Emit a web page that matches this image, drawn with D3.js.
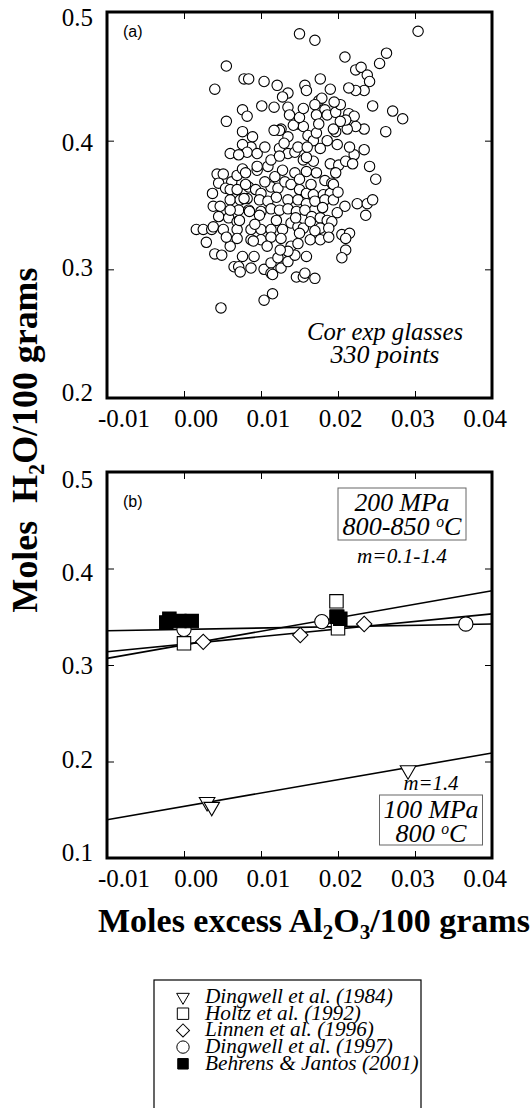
<!DOCTYPE html>
<html>
<head>
<meta charset="UTF-8">
<script src="https://d3js.org/d3.v7.min.js"></script>
<style>
  body { margin: 0; background: #fff; }
  svg { display: block; }
</style>
</head>
<body>
<svg></svg>
<script>
const width = 532, height = 1108;

// axis values
const xTicks = [-0.01, 0.00, 0.01, 0.02, 0.03, 0.04];
const xTickLabels = ["-0.01", "0.00", "0.01", "0.02", "0.03", "0.04"];
const yTicksA = [0.2, 0.3, 0.4, 0.5];
const yTicksB = [0.1, 0.2, 0.3, 0.4, 0.5];

// panel (a): corundum-normative experimental glasses [excess Al2O3, H2O]
const corExpGlasses = [
  [0.0150,0.483],[0.0170,0.478],[0.0304,0.485],[0.0209,0.465],[0.0263,0.468],[0.0254,0.460],
  [0.0055,0.458],[0.0223,0.455],[0.0230,0.457],[0.0238,0.451],[0.0241,0.446],[0.0234,0.439],
  [0.0223,0.439],[0.0214,0.441],[0.0040,0.440],[0.0078,0.448],[0.0084,0.448],[0.0104,0.446],
  [0.0121,0.443],[0.0135,0.437],[0.0128,0.434],[0.0177,0.448],[0.0157,0.443],[0.0159,0.439],
  [0.0190,0.440],[0.0245,0.427],[0.0271,0.423],[0.0284,0.417],[0.0262,0.407],[0.0234,0.409],
  [0.0223,0.411],[0.0212,0.409],[0.0055,0.415],[0.0076,0.424],[0.0082,0.419],[0.0101,0.427],
  [0.0117,0.426],[0.0135,0.426],[0.0137,0.420],[0.0175,0.431],[0.0179,0.433],[0.0170,0.428],
  [0.0183,0.424],[0.0172,0.420],[0.0186,0.420],[0.0197,0.422],[0.0203,0.428],[0.0214,0.421],
  [0.0221,0.419],[0.0210,0.416],[0.0203,0.415],[0.0197,0.407],[0.0194,0.409],[0.0148,0.413],
  [0.0155,0.411],[0.0142,0.412],[0.0126,0.409],[0.0124,0.408],[0.0135,0.403],[0.0117,0.408],
  [0.0161,0.404],[0.0168,0.400],[0.0172,0.406],[0.0186,0.400],[0.0177,0.394],[0.0199,0.397],
  [0.0076,0.407],[0.0089,0.403],[0.0087,0.395],[0.0076,0.397],[0.0082,0.391],[0.0095,0.390],
  [0.0060,0.390],[0.0071,0.389],[0.0124,0.394],[0.0135,0.390],[0.0144,0.391],[0.0148,0.395],
  [0.0155,0.385],[0.0168,0.384],[0.0159,0.387],[0.0190,0.382],[0.0201,0.381],[0.0210,0.384],
  [0.0221,0.389],[0.0219,0.382],[0.0234,0.393],[0.0241,0.380],[0.0249,0.370],[0.0043,0.374],
  [0.0051,0.374],[0.0045,0.367],[0.0062,0.368],[0.0069,0.373],[0.0076,0.378],[0.0080,0.375],
  [0.0095,0.377],[0.0109,0.380],[0.0113,0.385],[0.0124,0.388],[0.0128,0.377],[0.0144,0.375],
  [0.0159,0.376],[0.0172,0.375],[0.0183,0.369],[0.0197,0.375],[0.0192,0.367],[0.0037,0.359],
  [0.0054,0.363],[0.0060,0.362],[0.0069,0.362],[0.0084,0.364],[0.0093,0.362],[0.0100,0.359],
  [0.0113,0.364],[0.0122,0.363],[0.0131,0.368],[0.0139,0.366],[0.0150,0.362],[0.0159,0.359],
  [0.0168,0.358],[0.0181,0.358],[0.0190,0.359],[0.0194,0.366],[0.0038,0.349],[0.0047,0.349],
  [0.0060,0.354],[0.0073,0.354],[0.0082,0.355],[0.0098,0.354],[0.0109,0.353],[0.0120,0.356],
  [0.0135,0.354],[0.0148,0.354],[0.0159,0.351],[0.0170,0.353],[0.0183,0.354],[0.0194,0.354],
  [0.0209,0.349],[0.0225,0.351],[0.0238,0.351],[0.0245,0.354],[0.0236,0.342],[0.0045,0.341],
  [0.0058,0.340],[0.0069,0.337],[0.0071,0.346],[0.0084,0.346],[0.0100,0.345],[0.0113,0.347],
  [0.0124,0.346],[0.0135,0.347],[0.0146,0.345],[0.0157,0.346],[0.0166,0.341],[0.0177,0.340],
  [0.0186,0.338],[0.0199,0.344],[0.0192,0.337],[0.0016,0.331],[0.0025,0.331],[0.0036,0.331],
  [0.0038,0.333],[0.0051,0.331],[0.0069,0.331],[0.0087,0.331],[0.0100,0.331],[0.0113,0.331],
  [0.0128,0.331],[0.0139,0.336],[0.0148,0.333],[0.0155,0.332],[0.0164,0.337],[0.0177,0.332],
  [0.0188,0.332],[0.0205,0.327],[0.0215,0.328],[0.0210,0.324],[0.0029,0.321],[0.0040,0.312],
  [0.0049,0.311],[0.0060,0.318],[0.0069,0.324],[0.0087,0.323],[0.0100,0.323],[0.0113,0.325],
  [0.0126,0.324],[0.0139,0.318],[0.0148,0.320],[0.0164,0.323],[0.0177,0.323],[0.0188,0.325],
  [0.0210,0.315],[0.0205,0.309],[0.0065,0.302],[0.0071,0.302],[0.0073,0.298],[0.0087,0.301],
  [0.0076,0.310],[0.0091,0.310],[0.0104,0.300],[0.0113,0.305],[0.0113,0.297],[0.0115,0.296],
  [0.0122,0.309],[0.0126,0.301],[0.0135,0.306],[0.0144,0.311],[0.0146,0.294],[0.0155,0.294],
  [0.0157,0.297],[0.0170,0.293],[0.0159,0.310],[0.0135,0.314],[0.0115,0.281],[0.0104,0.276],
  [0.0048,0.270],
  [0.0080,0.366],[0.0105,0.368],[0.0118,0.372],[0.0150,0.370],[0.0165,0.366],[0.0098,0.342],
  [0.0120,0.338],[0.0145,0.340],[0.0092,0.335],[0.0078,0.355],[0.0060,0.346],[0.0072,0.338],
  [0.0108,0.318],[0.0125,0.315],[0.0150,0.328],[0.0170,0.330],[0.0180,0.348],[0.0200,0.360],
  [0.0215,0.395],[0.0160,0.395],[0.0130,0.398],[0.0105,0.395],[0.0095,0.380],[0.0150,0.418],
  [0.0175,0.413],[0.0195,0.430],[0.0155,0.425],[0.0090,0.322],[0.0055,0.325],[0.0085,0.345]
];

// panel (b): literature data [excess Al2O3, H2O]
const dingwell1984 = [[0.0030,0.158],[0.0036,0.153],[0.0291,0.191]];
const holtz1992 = [[0.0000,0.3225],[0.0198,0.366],[0.0198,0.350],[0.0200,0.338]];
const linnen1996 = [[0.0025,0.324],[0.0151,0.331],[0.0234,0.3425]];
const dingwell1997 = [[0.0000,0.337],[0.0179,0.345],[0.0366,0.3425]];
const behrens2001 = [[-0.0023,0.344],[-0.0019,0.348],[-0.0006,0.3455],[0.0010,0.3455],[0.0199,0.350],[0.0203,0.348]];

// fitted lines: H2O at x = -0.01 and x = 0.04
const fits200 = [[0.3355,0.3425],[0.3137,0.3530],[0.3069,0.3770]];
const fits100 = [[0.1397,0.2088]];

const legendNames = ["Dingwell et al. (1984)", "Holtz et al. (1992)", "Linnen et al. (1996)",
                     "Dingwell et al. (1997)", "Behrens & Jantos (2001)"];

const serif = "'Liberation Serif', 'Times New Roman', serif";
const sans = "'Liberation Sans', Arial, sans-serif";

let svg = d3.select("svg").attr("width", width).attr("height", height);

let x = d3.scaleLinear().domain([-0.01, 0.04]).range([107, 492]);
let yA = d3.scaleLinear().domain([0.2, 0.5]).range([398, 12]);
let yB = d3.scaleLinear().domain([0.1, 0.5]).range([858, 472]);

// tick labels in the original sit slightly inside the tick span
let xLab = d3.scaleLinear().domain([-0.01, 0.04]).range([124, 485]);

function fitText(sel, target) {
  let fs = parseFloat(sel.style("font-size"));
  let len = sel.node().getComputedTextLength();
  sel.style("font-size", (fs * target / len) + "px");
  return fs * target / len;
}

function frame(yScale, yTicks, labRange) {
  let g = svg.append("g");
  let [y0, y1] = yScale.range();
  let tickSty = sel => { sel.select(".domain").remove(); sel.selectAll("line").attr("stroke", "#000").attr("stroke-width", 1); sel.selectAll("text").remove(); };
  g.append("g").attr("transform", `translate(0,${y0})`).call(d3.axisBottom(x).tickValues(xTicks).tickSize(-7)).call(tickSty);
  g.append("g").attr("transform", `translate(0,${y1})`).call(d3.axisTop(x).tickValues(xTicks).tickSize(-7)).call(tickSty);
  g.append("g").attr("transform", `translate(${x.range()[0]},0)`).call(d3.axisLeft(yScale).tickValues(yTicks).tickSize(-7)).call(tickSty);
  g.append("g").attr("transform", `translate(${x.range()[1]},0)`).call(d3.axisRight(yScale).tickValues(yTicks).tickSize(-7)).call(tickSty);

  g.append("rect")
    .attr("x", x.range()[0]).attr("y", y1)
    .attr("width", x.range()[1] - x.range()[0]).attr("height", y0 - y1)
    .attr("fill", "none").attr("stroke", "#000").attr("stroke-width", 3);

  let yLab = d3.scaleLinear().domain(yScale.domain()).range(labRange);
  g.selectAll(".ylab").data(yTicks).enter().append("text")
    .attr("x", 93).attr("y", d => yLab(d)).attr("dy", "0.35em")
    .attr("text-anchor", "end").style("font-family", serif).style("font-size", "25px")
    .text(d => d.toFixed(1));
  g.selectAll(".xlab").data(xTicks).enter().append("text")
    .attr("x", d => xLab(d)).attr("y", y0 + 29)
    .attr("text-anchor", "middle").style("font-family", serif).style("font-size", "25px")
    .text((d, i) => xTickLabels[i]);
  return g;
}

function note(g, cx, y, str, target) {
  let t = g.append("text").attr("x", cx).attr("y", y).attr("text-anchor", "middle")
    .style("font-family", serif).style("font-style", "italic").style("font-size", "20px").text(str);
  fitText(t, target);
  return t;
}

// ---------- panel (a) ----------
let gA = frame(yA, yTicksA, [392, 17]);
gA.append("g").selectAll("circle").data(corExpGlasses).enter().append("circle")
  .attr("cx", d => x(d[0])).attr("cy", d => yA(d[1])).attr("r", 5.2)
  .attr("fill", "#fff").attr("stroke", "#000").attr("stroke-width", 1.1);
gA.append("text").attr("x", 123).attr("y", 37).style("font-family", sans).style("font-size", "16px").text("(a)");
note(gA, 385, 340, "Cor exp glasses", 156);
note(gA, 385, 363, "330 points", 109);

// ---------- panel (b) ----------
let gB = frame(yB, yTicksB, [852, 479]);
let lineGen = d3.line().x(d => x(d[0])).y(d => yB(d[1]));
gB.append("g").selectAll("path").data(fits200.concat(fits100)).enter().append("path")
  .attr("d", d => lineGen([[-0.01, d[0]], [0.04, d[1]]]))
  .attr("fill", "none").attr("stroke", "#000").attr("stroke-width", 1.6);

const symSquare = d3.symbol().type(d3.symbolSquare).size(180)();
const symDiamond = d3.symbol().type(d3.symbolSquare).size(118)();
const symTriangle = d3.symbol().type(d3.symbolTriangle).size(105)();
const symCircle = d3.symbol().type(d3.symbolCircle).size(160)();

function markers(data, path, fill, rot) {
  gB.append("g").selectAll("path").data(data).enter().append("path")
    .attr("d", path)
    .attr("transform", d => `translate(${x(d[0])},${yB(d[1])}) rotate(${rot})`)
    .attr("fill", fill).attr("stroke", "#000").attr("stroke-width", 1.1);
}
markers(holtz1992, symSquare, "#fff", 0);
markers(linnen1996, symDiamond, "#fff", 45);
markers(dingwell1997, symCircle, "#fff", 0);
markers(dingwell1984, symTriangle, "#fff", 180);
markers(behrens2001, symSquare, "#000", 0);

gB.append("text").attr("x", 123).attr("y", 507).style("font-family", sans).style("font-size", "16px").text("(b)");

function condBox(cx, top, w, h, line1, w1, line2pre, w2) {
  gB.append("rect").attr("x", cx - w / 2).attr("y", top).attr("width", w).attr("height", h)
    .attr("fill", "#fff").attr("stroke", "#666").attr("stroke-width", 1);
  note(gB, cx, top + 23, line1, w1);
  let t = gB.append("text").attr("x", cx).attr("y", top + 47).attr("text-anchor", "middle")
    .style("font-family", serif).style("font-style", "italic").style("font-size", "20px");
  t.append("tspan").text(line2pre);
  t.append("tspan").attr("dy", -8).style("font-size", "0.6em").text("o");
  t.append("tspan").attr("dy", 8).text("C");
  fitText(t, w2);
}
condBox(402, 488, 128, 52, "200 MPa", 95, "800-850 ", 119);
condBox(431, 795, 103, 50, "100 MPa", 95, "800 ", 71);

note(gB, 402, 563, "m=0.1-1.4", 90);
note(gB, 431, 790, "m=1.4", 55);

// ---------- axis titles ----------
let yTitle = svg.append("text")
  .attr("transform", "translate(37,440) rotate(-90)").attr("text-anchor", "middle")
  .style("font-family", serif).style("font-weight", "bold").style("font-size", "34px")
  .attr("xml:space", "preserve");
yTitle.append("tspan").text("Moles  H");
yTitle.append("tspan").attr("dy", 7).style("font-size", "0.62em").text("2");
yTitle.append("tspan").attr("dy", -7).text("O/100 grams");
fitText(yTitle, 345);

let xTitle = svg.append("text").attr("x", 98).attr("y", 932)
  .style("font-family", serif).style("font-weight", "bold").style("font-size", "34px");
xTitle.append("tspan").text("Moles excess Al");
xTitle.append("tspan").attr("dy", 7).style("font-size", "0.62em").text("2");
xTitle.append("tspan").attr("dy", -7).text("O");
xTitle.append("tspan").attr("dy", 7).style("font-size", "0.62em").text("3");
xTitle.append("tspan").attr("dy", -7).text("/100 grams");
fitText(xTitle, 432);

// ---------- legend ----------
let lg = svg.append("g");
lg.append("rect").attr("x", 154).attr("y", 980).attr("width", 267).attr("height", 140)
  .attr("fill", "#fff").attr("stroke", "#000").attr("stroke-width", 1.2);
const legSyms = [
  [d3.symbol().type(d3.symbolTriangle).size(70)(), "#fff", 180],
  [d3.symbol().type(d3.symbolSquare).size(130)(), "#fff", 0],
  [d3.symbol().type(d3.symbolSquare).size(85)(), "#fff", 45],
  [d3.symbol().type(d3.symbolCircle).size(120)(), "#fff", 0],
  [d3.symbol().type(d3.symbolSquare).size(110)(), "#000", 0]
];
let legFs = null;
legendNames.forEach((name, i) => {
  let yy = 1003 + i * 16.7;
  lg.append("path").attr("d", legSyms[i][0])
    .attr("transform", `translate(183,${yy - 6}) rotate(${legSyms[i][2]})`)
    .attr("fill", legSyms[i][1]).attr("stroke", "#000").attr("stroke-width", 1);
  let t = lg.append("text").attr("x", 205).attr("y", yy)
    .style("font-family", serif).style("font-style", "italic").style("font-size", "18px").text(name);
  if (i === 0) legFs = fitText(t, 188);
  else t.style("font-size", legFs + "px");
});
</script>
</body>
</html>
